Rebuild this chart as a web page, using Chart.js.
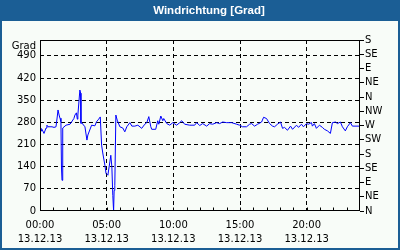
<!DOCTYPE html>
<html><head><meta charset="utf-8">
<script src="https://cdn.jsdelivr.net/npm/chart.js@4/dist/chart.umd.min.js"></script>
<style>html,body{margin:0;padding:0;background:#f8fcf8}#w{width:400px;height:250px}</style>
</head><body><div id="w"><canvas id="c" width="400" height="250"></canvas></div>
<script>
const chartTitle = 'Windrichtung [Grad]';
const unitLabel = 'Grad';
const dateLabel = '13.12.13';
const compassLabels = ['N','NE','E','SE','S','SW','W','NW','N','NE','E','SE','S'];
const hours = [0.00,0.07,0.15,0.30,0.45,0.52,0.60,0.75,0.90,1.05,1.20,1.30,1.35,1.45,1.50,1.57,1.61,1.65,1.69,1.72,1.95,2.25,2.54,2.62,2.73,2.80,2.84,2.99,3.05,3.07,3.14,3.37,3.52,3.59,3.87,4.12,4.24,4.40,4.52,4.57,4.62,4.72,4.87,4.95,5.01,5.09,5.24,5.31,5.39,5.46,5.52,5.56,5.61,5.69,5.79,5.99,6.21,6.36,6.51,6.74,6.89,7.11,7.34,7.63,7.86,8.01,8.16,8.31,8.38,8.68,8.83,8.91,9.06,9.21,9.28,9.51,9.73,9.96,10.25,10.48,10.63,10.85,11.23,11.60,11.75,11.98,12.20,12.50,12.72,12.95,13.25,13.47,13.70,14.00,14.37,14.75,14.97,15.19,15.49,15.72,15.87,16.09,16.32,16.62,16.77,16.99,17.22,17.44,17.59,17.81,18.04,18.19,18.34,18.56,18.79,18.94,19.24,19.39,19.61,19.76,19.99,20.13,20.36,20.43,20.58,20.73,20.96,21.18,21.33,21.56,21.78,21.93,22.16,22.31,22.53,22.68,22.90,23.05,23.28,23.43,23.95];
const degrees = [262,252,258,245,262,271,266,266,266,264,266,300,319,300,293,282,139,97,140,262,271,274,292,303,310,290,303,382,372,277,278,266,224,240,271,269,282,290,297,297,208,180,144,119,119,113,155,176,139,49,0,65,81,303,287,266,262,250,266,279,268,268,271,261,274,279,298,266,258,258,285,274,300,285,292,276,271,279,271,279,285,274,271,271,279,270,276,268,276,274,279,276,281,279,279,274,271,266,266,274,276,268,274,281,296,292,276,268,266,274,281,261,264,255,268,258,271,264,274,266,276,274,279,268,276,261,271,264,258,253,245,279,281,276,281,266,253,266,279,268,268];

Chart.defaults.font.family = 'DejaVu Sans';
Chart.defaults.font.size = 10;
Chart.defaults.color = '#000';

const dashed = {dash:[4,3], display:false};
const gridColor = (lo, hi, step) => ctx => (ctx.tick && ctx.tick.value > lo && ctx.tick.value < hi && ctx.tick.value % step === 0) ? '#000' : 'rgba(0,0,0,0)';

const framePlugin = {
  id: 'frame',
  beforeDraw(chart) {
    const c = chart.ctx;
    c.save();
    c.fillStyle = '#f8fcf8';
    c.fillRect(0, 0, chart.width, chart.height);
    c.fillStyle = '#1b5e95';
    c.fillRect(0, 0, chart.width, 21);
    c.strokeStyle = '#1b5e95';
    c.lineWidth = 2;
    c.strokeRect(1, 1, chart.width - 2, chart.height - 2);
    c.fillStyle = '#fff';
    c.font = 'bold 11.5px "Liberation Sans"';
    c.textAlign = 'center';
    c.textBaseline = 'middle';
    c.fillText(chartTitle, 209, 11);
    c.restore();
  },
  afterDraw(chart) {
    const c = chart.ctx, a = chart.chartArea, xs = chart.scales.x;
    c.save();
    c.strokeStyle = '#000';
    c.lineWidth = 1;
    const L = Math.round(a.left) + 0.5, R = Math.round(a.right) - 0.5;
    const T = Math.round(a.top) + 0.5, B = Math.round(a.bottom) - 0.5;
    c.strokeRect(L, T, R - L, B - T);
    c.beginPath();
    for (let h = 1; h < 24; h++) {
      const px = Math.round(xs.getPixelForValue(h)) + 0.5;
      c.moveTo(px, B); c.lineTo(px, B - 3);
    }
    c.stroke();
    c.fillStyle = '#000';
    c.font = '10px "DejaVu Sans"';
    c.textAlign = 'right';
    c.textBaseline = 'middle';
    c.fillText(unitLabel, a.left - 4, a.top + 6);
    c.restore();
  }
};

new Chart(document.getElementById('c'), {
  type: 'line',
  data: {
    datasets: [{
      data: hours.map((h, i) => ({x: h, y: degrees[i]})),
      borderColor: '#0000ff',
      borderWidth: 1,
      pointRadius: 0,
      tension: 0,
      fill: false,
      yAxisID: 'y'
    }]
  },
  options: {
    responsive: false,
    devicePixelRatio: 1,
    animation: false,
    layout: {padding: {top: 40, left: 0, right: 0, bottom: 0}},
    plugins: {legend: {display: false}, tooltip: {enabled: false}, title: {display: false}},
    scales: {
      x: {
        type: 'linear', min: 0, max: 24,
        afterFit: s => { s.height = 39; },
        ticks: {
          stepSize: 1, autoSkip: false, maxRotation: 0, padding: 7,
          font: {lineHeight: 1.4},
          callback: v => (v % 5 === 0 && v < 24) ? [String(v).padStart(2, '0') + ':00', dateLabel] : ''
        },
        grid: {drawTicks: false, color: gridColor(0, 24, 5)},
        border: dashed
      },
      y: {
        position: 'left', min: 0, max: 540,
        afterFit: s => { s.width = 40; },
        ticks: {stepSize: 70, padding: 4, autoSkip: false, callback: v => v <= 490 ? String(v) : ''},
        grid: {drawTicks: false, color: gridColor(0, 540, 70)},
        border: dashed
      },
      y2: {
        position: 'right', min: 0, max: 540,
        afterFit: s => { s.width = 40; },
        ticks: {stepSize: 45, padding: 1, autoSkip: false, callback: (v, i) => compassLabels[i]},
        grid: {drawOnChartArea: false, drawTicks: true, tickLength: 4, color: '#000'},
        border: {display: false}
      }
    }
  },
  plugins: [framePlugin]
});
</script>
</body></html>
